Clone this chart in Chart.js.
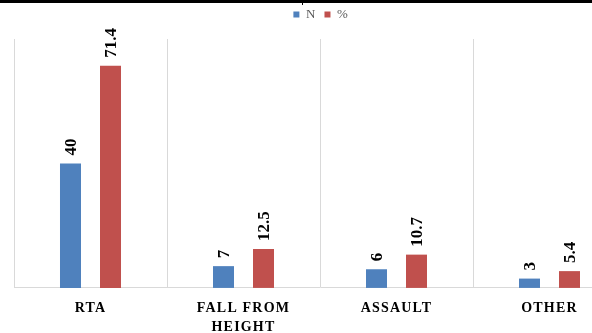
<!DOCTYPE html>
<html>
<head>
<meta charset="utf-8">
<script src="https://cdn.jsdelivr.net/npm/chart.js@4/dist/chart.umd.min.js"></script>
<style>
  html, body { margin: 0; padding: 0; background: #fff; overflow: hidden; }
  #wrap { position: absolute; left: 0; top: 0; width: 644px; height: 348px; }
  #topline { position: absolute; left: 0; top: 0; width: 592px; height: 3px; background: #000; z-index: 2; }
  #tick { position: absolute; left: 302px; top: 0; width: 1px; height: 5px; background: #000; z-index: 2; }
</style>
</head>
<body>
<div id="wrap"><canvas id="injuryChart"></canvas></div>
<div id="topline"></div>
<div id="tick"></div>
<script>
const categories = ["RTA", ["FALL FROM", "HEIGHT"], "ASSAULT", "OTHER"];
const countValues = [40, 7, 6, 3];
const percentValues = [71.4, 12.5, 10.7, 5.4];
const seriesNames = ["N", "%"];

const ctx = document.getElementById('injuryChart').getContext('2d');

// spaced-out capitals for the axis labels
const spacing = {
  id: 'spacing',
  beforeDraw(chart) {
    chart.ctx.letterSpacing = '1.2px';
  },
  beforeDatasetsDraw(chart) {
    chart.ctx.letterSpacing = '0px';
  }
};

// value labels written vertically above each bar
const barLabels = {
  id: 'barLabels',
  afterDatasetsDraw(chart) {
    const c = chart.ctx;
    chart.data.datasets.forEach((ds, i) => {
      chart.getDatasetMeta(i).data.forEach((bar, j) => {
        c.save();
        c.letterSpacing = '0px';
        c.translate(bar.x, bar.y - 8);
        c.rotate(-Math.PI / 2);
        c.font = 'bold 17px "Liberation Serif", serif';
        c.fillStyle = '#000';
        c.textAlign = 'left';
        c.textBaseline = 'middle';
        c.fillText(String(ds.data[j]), 0, 1);
        c.restore();
      });
    });
  }
};

new Chart(ctx, {
  type: 'bar',
  data: {
    labels: categories,
    datasets: [
      {
        label: seriesNames[0],
        data: countValues,
        backgroundColor: '#4F81BD',
        barPercentage: 0.525,
        categoryPercentage: 0.523
      },
      {
        label: seriesNames[1],
        data: percentValues,
        backgroundColor: '#C0504D',
        barPercentage: 0.525,
        categoryPercentage: 0.523
      }
    ]
  },
  options: {
    responsive: true,
    maintainAspectRatio: false,
    animation: false,
    layout: { padding: { left: 14, right: 18, top: 0, bottom: 0 } },
    plugins: {
      legend: {
        display: true,
        position: 'top',
        labels: {
          boxWidth: 6,
          boxHeight: 6,
          padding: 8,
          color: '#595959',
          font: { family: '"Liberation Serif", serif', size: 13 }
        }
      },
      tooltip: { enabled: false }
    },
    scales: {
      x: {
        grid: { color: '#d9d9d9', drawTicks: false, offset: true },
        border: { color: '#d9d9d9' },
        ticks: {
          padding: 11,
          color: '#000',
          maxRotation: 0,
          font: { family: '"Liberation Serif", serif', size: 14, weight: 'bold', lineHeight: 1.36 }
        }
      },
      // empty strip that keeps the plot top below the legend
      xTop: {
        type: 'category',
        position: 'top',
        grid: { display: true, drawOnChartArea: false, drawTicks: true, tickLength: 8, color: 'rgba(0,0,0,0)' },
        border: { display: false },
        ticks: { display: false }
      },
      y: {
        display: false,
        min: 0,
        max: 80
      }
    }
  },
  plugins: [spacing, barLabels]
});
</script>
</body>
</html>
